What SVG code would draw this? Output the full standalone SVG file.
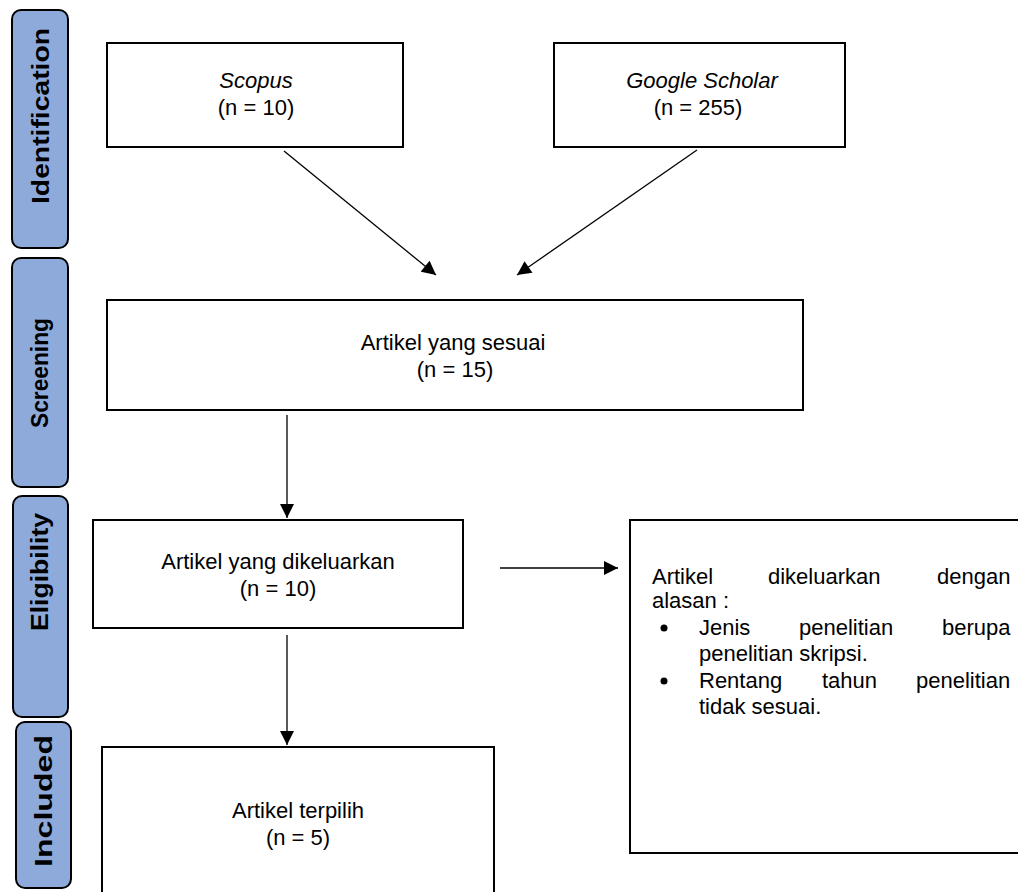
<svg xmlns="http://www.w3.org/2000/svg" width="1018" height="892" viewBox="0 0 1018 892">
<style>
.bar{fill:#8eaadb;stroke:#000;stroke-width:2}
.box{fill:#fff;stroke:#000;stroke-width:2}
.lbl{font-family:"Liberation Sans",Arial,sans-serif;font-weight:bold;font-size:23px;fill:#000;text-anchor:middle}
.t{font-family:"Liberation Sans",Arial,sans-serif;font-size:22px;fill:#000}
.c{text-anchor:middle}
.i{font-style:italic}
.ln{stroke:#000;stroke-width:1.3;fill:none;marker-end:url(#ah)}
</style>
<defs>
<marker id="ah" viewBox="0 0 10 10" refX="10" refY="5" markerWidth="15" markerHeight="14" markerUnits="userSpaceOnUse" orient="auto">
<path d="M0,0 L10,5 L0,10 Z" fill="#000"/>
</marker>
</defs>
<rect width="1018" height="892" fill="#fff"/>
<g id="bar-identification"><rect class="bar" x="12" y="10" width="56" height="238" rx="9"/><text class="lbl" textLength="176" lengthAdjust="spacingAndGlyphs" transform="translate(49,116) rotate(-90)">Identification</text></g>
<g id="bar-screening"><rect class="bar" x="12" y="258" width="56" height="229" rx="9"/><text class="lbl" textLength="110" lengthAdjust="spacingAndGlyphs" transform="translate(48,373) rotate(-90)">Screening</text></g>
<g id="bar-eligibility"><rect class="bar" x="13" y="496" width="55" height="221" rx="9"/><text class="lbl" textLength="118" lengthAdjust="spacingAndGlyphs" transform="translate(48,572) rotate(-90)">Eligibility</text></g>
<g id="bar-included"><rect class="bar" x="16" y="722" width="55" height="166" rx="9"/><text class="lbl" textLength="132" lengthAdjust="spacingAndGlyphs" transform="translate(52,801) rotate(-90)">Included</text></g>
<g id="node-scopus"><rect class="box" x="107" y="43" width="296" height="104"/><text class="t c i" x="256" y="88">Scopus</text><text class="t c" x="256" y="115">(n = 10)</text></g>
<g id="node-google"><rect class="box" x="554" y="43" width="291" height="104"/><text class="t c i" x="702" y="88">Google Scholar</text><text class="t c" x="698" y="115">(n = 255)</text></g>
<g id="node-screening"><rect class="box" x="107" y="300" width="696" height="110"/><text class="t c" x="453" y="350">Artikel yang sesuai</text><text class="t c" x="455" y="377">(n = 15)</text></g>
<g id="node-eligibility"><rect class="box" x="93" y="520" width="370" height="108"/><text class="t c" x="278" y="569">Artikel yang dikeluarkan</text><text class="t c" x="278" y="596">(n = 10)</text></g>
<g id="node-included"><rect class="box" x="102" y="747" width="392" height="160"/><text class="t c" x="298" y="818">Artikel terpilih</text><text class="t c" x="298" y="845">(n = 5)</text></g>
<g id="node-excluded"><rect class="box" x="630" y="520" width="400" height="333"/>
<text class="t" y="584"><tspan x="652">Artikel</tspan><tspan x="768">dikeluarkan</tspan><tspan x="937">dengan</tspan></text>
<text class="t" x="652" y="608">alasan :</text>
<circle cx="664" cy="628" r="3.5" fill="#000"/>
<text class="t" y="635"><tspan x="699">Jenis</tspan><tspan x="799">penelitian</tspan><tspan x="942">berupa</tspan></text>
<text class="t" x="699" y="661">penelitian skripsi.</text>
<circle cx="664" cy="681" r="3.5" fill="#000"/>
<text class="t" y="688"><tspan x="699">Rentang</tspan><tspan x="822">tahun</tspan><tspan x="916">penelitian</tspan></text>
<text class="t" x="699" y="714">tidak sesuai.</text>
</g>
<g id="connectors">
<line class="ln" x1="284" y1="151" x2="436" y2="275"/>
<line class="ln" x1="697" y1="150" x2="517" y2="275"/>
<line class="ln" x1="287" y1="415" x2="287" y2="518"/>
<line class="ln" x1="287" y1="635" x2="287" y2="745"/>
<line class="ln" x1="500" y1="568" x2="618" y2="568"/>
</g>
</svg>
